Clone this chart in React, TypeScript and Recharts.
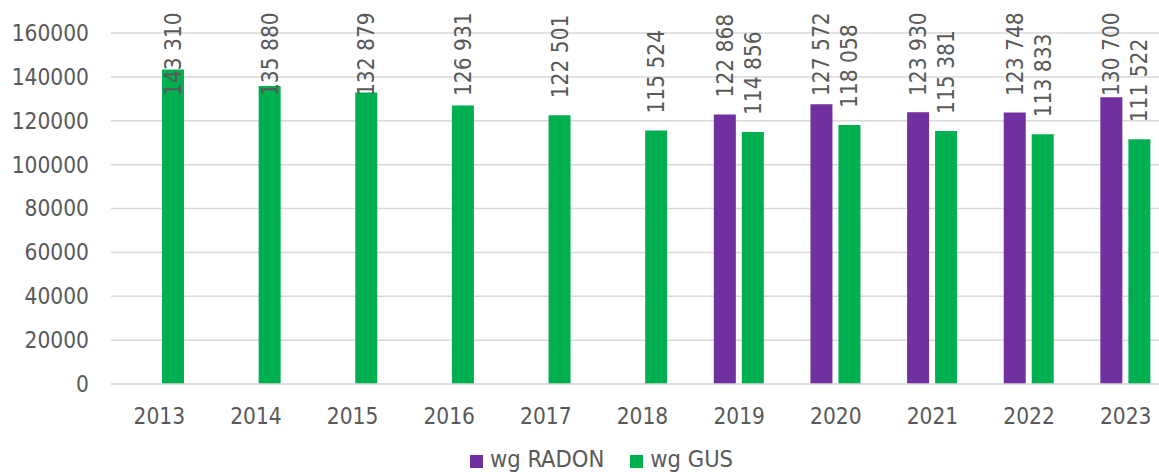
import React from "react";
import { BarChart, Bar, XAxis, YAxis, CartesianGrid, Legend } from "recharts";

const YEARS = ["2013", "2014", "2015", "2016", "2017", "2018", "2019", "2020", "2021", "2022", "2023"];
const RADON = [null, null, null, null, null, null, 122868, 127572, 123930, 123748, 130700];
const GUS = [143310, 135880, 132879, 126931, 122501, 115524, 114856, 118058, 115381, 113833, 111522];
const Y_TICKS = [0, 20000, 40000, 60000, 80000, 100000, 120000, 140000, 160000];

const PURPLE = "#7030A0";
const GREEN = "#00B050";
const TEXT = "#595959";
const FONT = "'DejaVu Sans Condensed', 'Liberation Sans', sans-serif";

const SERIES = [
    { key: "radon", name: "wg RADON", color: PURPLE },
    { key: "gus", name: "wg GUS", color: GREEN },
];

const data = YEARS.map((year, i) => ({ year, radon: RADON[i], gus: GUS[i] }));

const formatValue = (v: number) => {
    const s = String(v);
    return s.slice(0, s.length - 3) + " " + s.slice(s.length - 3);
};

// rotated label above the bar, pushed down so it stays inside the chart
const ValueLabel = (props: any) => {
    const { x, y, width, value } = props;
    if (value === null || value === undefined) return null;
    const cx = x + width / 2;
    const bottom = Math.max(y - 17, 96);
    return (
        <text
            x={cx}
            y={bottom}
            dy={8}
            transform={`rotate(-90, ${cx}, ${bottom})`}
            textAnchor="start"
            fill={TEXT}
            fontSize={22.5}
            fontFamily={FONT}
        >
            {formatValue(value)}
        </text>
    );
};

const LegendContent = () => (
    <div style={{ display: "flex", justifyContent: "center", fontFamily: FONT, fontSize: 23.5, color: TEXT, lineHeight: "25px", paddingLeft: 55 }}>
        {SERIES.map((s) => (
            <div key={s.key} style={{ display: "flex", alignItems: "center", marginRight: 26 }}>
                <div style={{ width: 13, height: 13, background: s.color, marginRight: 7, marginTop: 3 }} />
                <span>{s.name}</span>
            </div>
        ))}
    </div>
);

const App: React.FC = () => {
    return (
        <div style={{ position: "absolute", left: 0, top: 0, width: 1159, height: 472, overflow: "hidden", background: "#fff" }}>
            <BarChart
                width={1174}
                height={472}
                data={data}
                margin={{ top: 33, right: 0, bottom: 0, left: 0 }}
                barSize={22}
                barGap={6}
            >
                <CartesianGrid vertical={false} stroke="#D9D9D9" strokeWidth={1.5} />
                <XAxis
                    dataKey="year"
                    tickLine={false}
                    axisLine={{ stroke: "#D9D9D9", strokeWidth: 1.5 }}
                    tick={{ fill: TEXT, fontSize: 22.5, fontFamily: FONT }}
                    tickMargin={18}
                    height={63}
                />
                <YAxis
                    domain={[0, 160000]}
                    ticks={Y_TICKS}
                    width={111}
                    tickLine={false}
                    axisLine={false}
                    tickSize={0}
                    tickMargin={22}
                    tick={{ fill: TEXT, fontSize: 22.5, fontFamily: FONT }}
                />
                <Legend
                    content={<LegendContent />}
                    wrapperStyle={{ left: 0, width: 1174, bottom: 0, height: 25 }}
                />
                {SERIES.map((s) => (
                    <Bar key={s.key} dataKey={s.key} name={s.name} fill={s.color} isAnimationActive={false} label={ValueLabel} />
                ))}
            </BarChart>
        </div>
    );
};

export default App;
